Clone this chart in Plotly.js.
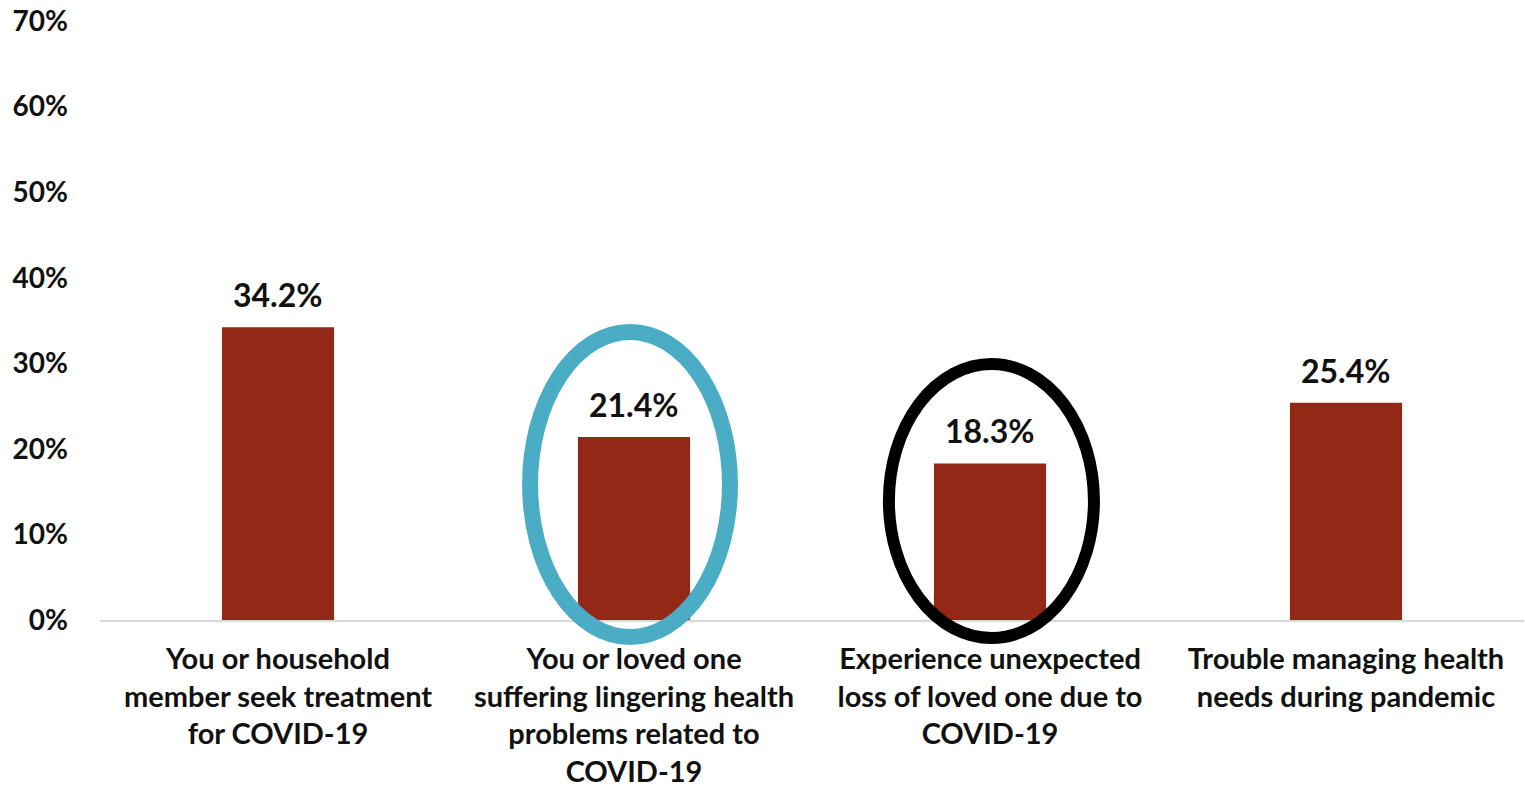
<!DOCTYPE html>
<html><head><meta charset="utf-8">
<script src="https://cdn.plot.ly/plotly-3.0.1.min.js"></script>
<style>html,body{margin:0;padding:0;background:#fff}#chart{width:1525px;height:787px}</style>
</head><body><div id="chart"></div>
<script>
const categories = [
  "You or household<br>member seek treatment<br>for COVID-19",
  "You or loved one<br>suffering lingering health<br>problems related to<br>COVID-19",
  "Experience unexpected<br>loss of loved one due to<br>COVID-19",
  "Trouble managing health<br>needs during pandemic"
];
const values = [34.2, 21.4, 18.3, 25.4];
const valueLabels = ["34.2%", "21.4%", "18.3%", "25.4%"];
const yTickVals = [0, 10, 20, 30, 40, 50, 60, 70];
const yTickText = ["0%", "10%", "20%", "30%", "40%", "50%", "60%", "70%"];

const FONT = "Lato, 'Open Sans', sans-serif";
const trace = {
  type: "bar", x: categories, y: values,
  marker: {color: "#922815"},
  hoverinfo: "skip"
};
const annotations = categories.map((c, i) => ({
  x: c, y: values[i], xref: "x", yref: "y", text: "<b>" + valueLabels[i] + "</b>",
  showarrow: false, yanchor: "bottom", yshift: 11,
  font: {family: FONT, size: 32, color: "#111"}
}));
const layout = {
  width: 1525, height: 787,
  margin: {l: 100, r: 1, t: 21, b: 167},
  paper_bgcolor: "#fff", plot_bgcolor: "#fff",
  showlegend: false,
  bargap: 0.685,
  font: {family: FONT, color: "#111"},
  xaxis: {
    type: "category", showgrid: false, zeroline: false,
    showline: true, linecolor: "#d9d9d9", linewidth: 2,
    ticks: "", tickfont: {family: FONT, size: 29, color: "#111", weight: "bold"},
    ticklabelstandoff: 12
  },
  yaxis: {
    range: [0, 70], tickvals: yTickVals, ticktext: yTickText,
    showgrid: false, zeroline: false, showline: false, ticks: "",
    tickfont: {family: FONT, size: 28, color: "#111", weight: "bold"},
    ticklabelstandoff: 31
  },
  annotations: annotations,
  shapes: [
    {type: "circle", xref: "paper", yref: "paper", x0: 0.302, x1: 0.4424, y0: -0.0284, y1: 0.4808,
     line: {color: "#4BACC6", width: 16}, fillcolor: "rgba(0,0,0,0)", layer: "above"},
    {type: "circle", xref: "paper", yref: "paper", x0: 0.554, x1: 0.698, y0: -0.030, y1: 0.4274,
     line: {color: "#000", width: 12}, fillcolor: "rgba(0,0,0,0)", layer: "above"}
  ]
};
Plotly.newPlot("chart", [trace], layout, {displayModeBar: false, staticPlot: true});
</script></body></html>
